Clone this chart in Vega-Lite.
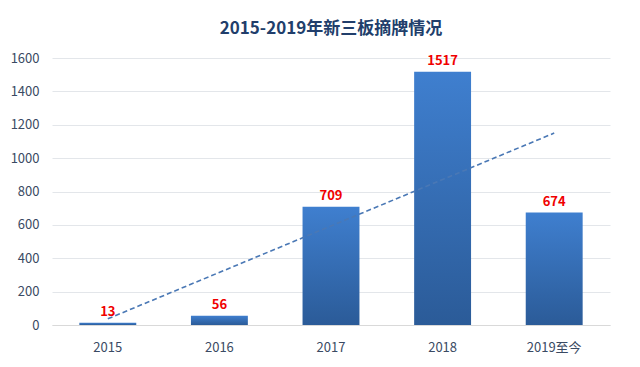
{
  "$schema": "https://vega.github.io/schema/vega-lite/v6.json",
  "width": 558,
  "height": 267,
  "autosize": {"type": "none"},
  "padding": {"left": 52, "top": 58, "right": 30, "bottom": 42},
  "background": "white",
  "title": {
    "text": "2015-2019年新三板摘牌情况",
    "font": "Noto Sans CJK SC",
    "fontSize": 17,
    "fontWeight": "bold",
    "color": "#213e6b",
    "anchor": "middle",
    "offset": 14
  },
  "datasets": {
    "bars": [
      {"year": "2015", "count": 13},
      {"year": "2016", "count": 56},
      {"year": "2017", "count": 709},
      {"year": "2018", "count": 1517},
      {"year": "2019至今", "count": 674}
    ],
    "trend": [
      {"year": "2015", "count": 37},
      {"year": "2019至今", "count": 1150}
    ]
  },
  "config": {
    "view": {"stroke": null},
    "font": "Noto Sans CJK SC"
  },
  "encoding": {
    "x": {
      "field": "year", "type": "nominal", "sort": ["2015", "2016", "2017", "2018", "2019至今"],
      "scale": {"paddingInner": 0.49, "paddingOuter": 0.245},
      "axis": {
        "title": null, "labelAngle": 0, "ticks": false, "domain": true,
        "domainColor": "#d9d9d9", "labelPadding": 16, "labelFontSize": 13,
        "labelColor": "#3a4a63", "labelFont": "Noto Sans CJK SC"
      }
    },
    "y": {
      "field": "count", "type": "quantitative",
      "scale": {"domain": [0, 1600], "nice": false},
      "axis": {
        "title": null, "values": [0, 200, 400, 600, 800, 1000, 1200, 1400, 1600],
        "format": "d", "labelOverlap": false,
        "ticks": false, "domain": false, "gridColor": "#e3e6ea",
        "labelPadding": 13, "labelFontSize": 13, "labelColor": "#3a4a63",
        "labelFont": "Noto Sans CJK SC"
      }
    }
  },
  "layer": [
    {
      "data": {"name": "bars"},
      "mark": {
        "type": "bar",
        "color": {
          "gradient": "linear",
          "x1": 0, "y1": 0, "x2": 0, "y2": 1,
          "stops": [
            {"offset": 0, "color": "#3f7fcf"},
            {"offset": 1, "color": "#2b5b98"}
          ]
        }
      }
    },
    {
      "data": {"name": "bars"},
      "mark": {
        "type": "text", "dy": -11, "fontSize": 13, "fontWeight": "bold",
        "color": "#f00000", "font": "Noto Sans CJK SC"
      },
      "encoding": {
        "text": {"field": "count", "type": "quantitative"}
      }
    },
    {
      "data": {"name": "trend"},
      "mark": {"type": "line", "strokeDash": [5, 3], "strokeWidth": 1.6, "color": "#4a78b5"}
    }
  ]
}
